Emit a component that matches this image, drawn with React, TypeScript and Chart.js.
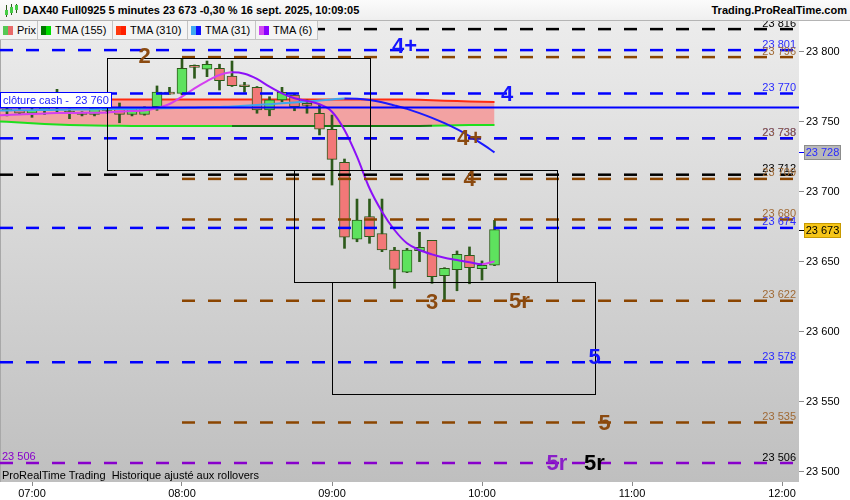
import React, { useEffect, useRef } from 'react';
import { Chart, registerables } from 'chart.js';

Chart.register(...registerables);

const FONT = '"Liberation Sans", Arial, sans-serif';

// ---------- data ----------
const candleTimes = ['06:45','06:50','06:55','07:00','07:05','07:10','07:15','07:20','07:25','07:30','07:35','07:40','07:45','07:50','07:55','08:00','08:05','08:10','08:15','08:20','08:25','08:30','08:35','08:40','08:45','08:50','08:55','09:00','09:05','09:10','09:15','09:20','09:25','09:30','09:35','09:40','09:45','09:50','09:55','10:00','10:05'];
const opens = [23757, 23757.5, 23758, 23756, 23758, 23760, 23756.5, 23755.2, 23755.1, 23759, 23759.4, 23755, 23755, 23760.6, 23770, 23770.1, 23788.9, 23787.3, 23788, 23782.5, 23775, 23774.4, 23758.2, 23765.4, 23768.9, 23762, 23755.9, 23744.4, 23720.9, 23665.9, 23682, 23670, 23658.2, 23642.3, 23657.7, 23665.1, 23639.9, 23644.1, 23654.4, 23644.9, 23647.3];
const highs = [23759, 23760, 23761, 23760, 23762, 23773, 23759, 23757, 23761, 23761, 23763.2, 23760, 23760.5, 23775.4, 23774.4, 23795, 23790.4, 23793.2, 23790.9, 23793.2, 23778, 23775, 23767.7, 23774.4, 23769.5, 23765.4, 23761.8, 23754.6, 23723.2, 23694.6, 23694.6, 23694.6, 23660.1, 23659.4, 23670.9, 23665.1, 23645.6, 23657.5, 23660.4, 23650.4, 23679.4];
const lows = [23755, 23754, 23755, 23753, 23755, 23757, 23752, 23754, 23754, 23756, 23749.1, 23754, 23754.5, 23758, 23769.4, 23769, 23780.9, 23782, 23772.5, 23775, 23770.9, 23755.9, 23754.1, 23764, 23757.7, 23755.9, 23740.4, 23704.6, 23659.4, 23664.1, 23663, 23657, 23630.9, 23642, 23649.9, 23634.4, 23621.8, 23629.1, 23634.1, 23636.8, 23647];
const closes = [23757.5, 23758, 23756, 23758, 23760, 23762, 23756, 23755, 23759.4, 23758, 23755.1, 23759.4, 23759.4, 23771, 23769.6, 23788, 23788.7, 23790.9, 23779.1, 23775.6, 23774.8, 23758.2, 23765.4, 23770.9, 23760.6, 23761.5, 23744.6, 23723, 23667.3, 23679.6, 23667.7, 23658.2, 23644.4, 23658.2, 23660.1, 23639.2, 23645.1, 23655.1, 23645.6, 23647.3, 23672.8];

const tma155 = [23750.3, 23749.8, 23749.2, 23748.7, 23748.2, 23747.8, 23747.5, 23747.3, 23747.1, 23747.0, 23746.9, 23746.8, 23746.8, 23746.8, 23746.8, 23746.8, 23746.8, 23746.8, 23746.8, 23746.8, 23746.8, 23746.8, 23746.8, 23746.8, 23746.8, 23746.8, 23746.8, 23746.8, 23746.8, 23746.8, 23746.8, 23746.8, 23746.8, 23746.8, 23746.8, 23747.0, 23747.2, 23747.4, 23747.5, 23747.5, 23747.5];
const tma310 = [23765.8, 23765.8, 23765.8, 23765.8, 23765.8, 23765.8, 23765.8, 23765.8, 23765.8, 23765.8, 23765.8, 23765.8, 23765.8, 23765.8, 23765.8, 23765.8, 23765.8, 23765.8, 23765.8, 23765.8, 23765.8, 23765.8, 23765.8, 23765.8, 23765.8, 23765.8, 23765.8, 23765.8, 23765.8, 23765.8, 23765.8, 23765.8, 23765.8, 23765.7, 23765.5, 23765.2, 23764.9, 23764.6, 23764.3, 23764.1, 23764.0];
const tma31 = [23757.8, 23757.9, 23758.0, 23758.1, 23758.2, 23758.4, 23758.5, 23758.6, 23758.7, 23758.8, 23758.9, 23759.0, 23759.1, 23759.3, 23759.5, 23759.7, 23759.9, 23760.1, 23760.4, 23760.7, 23761.2, 23761.8, 23762.4, 23763.0, 23763.6, 23764.3, 23765.0, 23765.8, 23766.5, 23766.3, 23765.4, 23763.8, 23761.5, 23759.0, 23756.0, 23752.6, 23748.8, 23744.5, 23739.5, 23734.0, 23728.0];
const tma6 = [23754.2, 23754.6, 23755.0, 23755.4, 23755.7, 23756.0, 23756.1, 23756.2, 23756.3, 23756.5, 23757.2, 23757.5, 23757.9, 23759.6, 23762.5, 23767.7, 23773.7, 23778.9, 23783.2, 23785.1, 23784.1, 23780.4, 23774.9, 23770.1, 23766.6, 23764.6, 23762.3, 23757.0, 23743.9, 23724.9, 23702.3, 23685.6, 23672.5, 23663.0, 23658.2, 23655.1, 23652.7, 23651.1, 23649.4, 23648.0, 23650.1];
const tma155DownFrom = '08:20';
const tma155DownTo = '09:40';

const cashClose = 23760;

const levelPrices = [23816, 23801, 23796, 23770, 23738, 23738, 23712, 23709, 23680, 23674, 23622, 23578, 23535, 23506];
const levelKinds = ['black', 'blue', 'brown', 'blue', 'blue', 'brown', 'black', 'brown', 'brown', 'blue', 'brown', 'blue', 'brown', 'purple'];
const levelFrom: (string | null)[] = [null, null, '08:00', null, null, '08:00', null, '08:00', '08:00', null, '08:00', null, '08:00', null];

const noteTexts = ['2', '4+', '4', '4+', '4', '3', '5r', '5', '5', '5r', '5r'];
const noteTimes = ['07:45', '09:29', '10:10', '09:55', '09:55', '09:40', '10:15', '10:45', '10:49', '10:30', '10:45'];
const notePrices = [23797, 23804, 23770, 23738, 23709, 23621, 23622, 23582, 23535, 23506, 23506];
const noteKinds = ['brown', 'blue', 'blue', 'brown', 'brown', 'brown', 'brown', 'blue', 'brown', 'purple', 'black'];

const boxStarts = ['07:30', '08:45', '09:00'];
const boxEnds = ['09:15', '10:30', '10:45'];
const boxHighs = [23795.4, 23715.4, 23635.4];
const boxLows = [23715.4, 23635.4, 23555.4];

const xTickHours = ['07:00', '08:00', '09:00', '10:00', '11:00', '12:00'];
const X_MIN = -12.8; // minutes after 07:00
const X_MAX = 306.8;
const Y_MIN = 23492.5;
const Y_MAX = 23822.5;

// ---------- helpers ----------
const toMin = (s: string) => {
  const [h, m] = s.split(':').map(Number);
  return (h - 7) * 60 + m;
};
const fmt = (v: number) => {
  const s = Math.round(v).toString();
  return s.slice(0, s.length - 3) + ' ' + s.slice(-3);
};

const lineColor: Record<string, string> = { blue: '#0000ff', brown: '#8b4500', black: '#000000', purple: '#8800cc' };
const labelColor: Record<string, string> = { blue: '#2a2aff', brown: '#a06a35', black: '#000000', purple: '#000000' };
const noteColor: Record<string, string> = { blue: '#1414ff', brown: '#8b4a10', black: '#000000', purple: '#8a1ec8' };

export default function App() {
  const ref = useRef<HTMLCanvasElement>(null);

  useEffect(() => {
    document.body.style.margin = '0';
    const xs = candleTimes.map(toMin);
    const series = (arr: number[]) => xs.map((x, i) => ({ x, y: arr[i] }));
    const dn0 = toMin(tma155DownFrom);
    const dn1 = toMin(tma155DownTo);

    const levelSets = levelPrices.map((p, i) => ({
      type: 'line' as const,
      data: [
        { x: levelFrom[i] ? toMin(levelFrom[i] as string) : X_MIN, y: p },
        { x: X_MAX, y: p },
      ],
      borderColor: lineColor[levelKinds[i]],
      borderWidth: 2.5,
      borderDash: [13, 13],
      pointRadius: 0,
      order: 1,
    }));

    const overlay = {
      id: 'overlay',
      beforeDraw(chart: any) {
        const { ctx, chartArea: a, width, height } = chart;
        ctx.save();
        ctx.fillStyle = '#ffffff';
        ctx.fillRect(0, 0, width, height);
        const g = ctx.createLinearGradient(0, a.top, 0, a.bottom);
        g.addColorStop(0, '#ececec');
        g.addColorStop(1, '#bfbfbf');
        ctx.fillStyle = g;
        ctx.fillRect(a.left, a.top, a.right - a.left, a.bottom - a.top);
        ctx.strokeStyle = '#a8a8a8';
        ctx.lineWidth = 1;
        ctx.beginPath();
        ctx.moveTo(a.left + 0.5, a.top);
        ctx.lineTo(a.left + 0.5, a.bottom);
        ctx.stroke();
        ctx.restore();
      },
      afterDatasetsDraw(chart: any) {
        const { ctx, chartArea: a } = chart;
        const sx = chart.scales.x;
        const sy = chart.scales.y;
        ctx.save();
        // boxes
        ctx.strokeStyle = '#000';
        ctx.lineWidth = 1;
        boxStarts.forEach((b, i) => {
          const x0 = Math.round(sx.getPixelForValue(toMin(b))) + 0.5;
          const x1 = Math.round(sx.getPixelForValue(toMin(boxEnds[i]))) + 0.5;
          const y0 = Math.round(sy.getPixelForValue(boxHighs[i])) + 0.5;
          const y1 = Math.round(sy.getPixelForValue(boxLows[i])) + 0.5;
          ctx.strokeRect(x0, y0, x1 - x0, y1 - y0);
        });
        // level labels
        ctx.font = '11px ' + FONT;
        ctx.textBaseline = 'alphabetic';
        levelPrices.forEach((p, i) => {
          const y = sy.getPixelForValue(p);
          ctx.textAlign = 'right';
          ctx.fillStyle = labelColor[levelKinds[i]];
          ctx.fillText(fmt(p), a.right - 3, y - 2.5);
          if (levelKinds[i] === 'purple') {
            ctx.textAlign = 'left';
            ctx.fillStyle = lineColor.purple;
            ctx.fillText(fmt(p), a.left + 2, y - 3);
          }
        });
        // notes
        ctx.font = 'bold 22px ' + FONT;
        ctx.textAlign = 'center';
        ctx.textBaseline = 'middle';
        noteTexts.forEach((t, i) => {
          const x = sx.getPixelForValue(toMin(noteTimes[i]));
          const y = sy.getPixelForValue(notePrices[i]);
          ctx.fillStyle = noteColor[noteKinds[i]];
          ctx.fillText(t, x, y + 1);
        });
        // cash close label
        const yc = Math.round(sy.getPixelForValue(cashClose));
        ctx.fillStyle = '#ffffff';
        ctx.fillRect(a.left, yc - 16, 112, 15);
        ctx.strokeStyle = '#0000ff';
        ctx.strokeRect(a.left + 0.5, yc - 15.5, 111, 15);
        ctx.font = '11px ' + FONT;
        ctx.textAlign = 'left';
        ctx.textBaseline = 'middle';
        ctx.fillStyle = '#1e1eff';
        ctx.fillText('clôture cash -  ' + fmt(cashClose), a.left + 3, yc - 7.5);
        ctx.restore();
      },
      afterDraw(chart: any) {
        const { ctx, chartArea: a } = chart;
        const sy = chart.scales.y;
        ctx.save();
        ctx.font = '11px ' + FONT;
        ctx.textAlign = 'center';
        ctx.textBaseline = 'middle';
        const tags = [
          { v: tma31[tma31.length - 1], fill: '#b8b8b8', stroke: '#8c8c8c', text: '#2a2aff', tick: '#0000ff' },
          { v: closes[closes.length - 1], fill: '#f5c518', stroke: '#c89a00', text: '#000000', tick: '#000000' },
        ];
        tags.forEach((t) => {
          const y = Math.round(sy.getPixelForValue(t.v));
          ctx.strokeStyle = t.tick;
          ctx.lineWidth = 1;
          ctx.beginPath();
          ctx.moveTo(a.right, y + 0.5);
          ctx.lineTo(a.right + 5, y + 0.5);
          ctx.stroke();
          ctx.fillStyle = t.fill;
          ctx.fillRect(a.right + 5, y - 7, 37, 15);
          ctx.strokeStyle = t.stroke;
          ctx.strokeRect(a.right + 5.5, y - 6.5, 36, 14);
          ctx.fillStyle = t.text;
          ctx.fillText(fmt(t.v), a.right + 23.5, y + 1);
        });
        ctx.restore();
      },
    };

    const chart = new Chart(ref.current as HTMLCanvasElement, {
      type: 'line',
      data: {
        datasets: [
          {
            type: 'line',
            data: [{ x: X_MIN, y: cashClose }, { x: X_MAX, y: cashClose }],
            borderColor: '#0000ff',
            borderWidth: 2,
            pointRadius: 0,
            order: 0,
          },
          ...levelSets,
          {
            type: 'line',
            data: series(tma6),
            borderWidth: 2,
            pointRadius: 0,
            cubicInterpolationMode: 'monotone',
            segment: { borderColor: (c: any) => (c.p1.parsed.y >= c.p0.parsed.y ? '#d43ef0' : '#8c10f8') },
            order: 2,
          },
          {
            type: 'line',
            data: series(tma31),
            borderWidth: 2,
            pointRadius: 0,
            cubicInterpolationMode: 'monotone',
            segment: { borderColor: (c: any) => (c.p1.parsed.y >= c.p0.parsed.y ? '#3ca6ee' : '#1a1aff') },
            order: 2,
          },
          {
            type: 'bar',
            data: xs.map((x, i) => ({ x, y: [Math.min(opens[i], closes[i]), Math.max(opens[i], closes[i])] })),
            backgroundColor: closes.map((c, i) => (c >= opens[i] ? '#5ee25e' : '#f27878')),
            borderColor: '#2d5a1b',
            borderWidth: 1,
            borderSkipped: false,
            barThickness: 10,
            minBarLength: 2,
            grouped: false,
            order: 3,
          },
          {
            type: 'bar',
            data: xs.map((x, i) => ({ x, y: [lows[i], highs[i]] })),
            backgroundColor: '#2d5a1b',
            borderWidth: 0,
            barThickness: 2,
            grouped: false,
            order: 4,
          },
          {
            type: 'line',
            data: series(tma310),
            borderColor: '#ff2a10',
            borderWidth: 2,
            pointRadius: 0,
            order: 5,
          },
          {
            type: 'line',
            data: series(tma155),
            borderWidth: 2,
            pointRadius: 0,
            fill: '-1',
            backgroundColor: 'rgba(255,110,110,0.55)',
            segment: { borderColor: (c: any) => (c.p0.parsed.x >= dn0 && c.p0.parsed.x < dn1 ? '#127a12' : '#1ee01e') },
            order: 6,
          },
        ] as any,
      },
      options: {
        responsive: false,
        animation: false,
        events: [],
        layout: { padding: { top: 20, left: 0, right: 0, bottom: 0 } },
        plugins: { legend: { display: false }, tooltip: { enabled: false } },
        scales: {
          x: {
            type: 'linear',
            min: X_MIN,
            max: X_MAX,
            offset: false,
            afterFit: (s: any) => { s.height = 18; },
            afterBuildTicks: (s: any) => { s.ticks = xTickHours.map((h) => ({ value: toMin(h) })); },
            grid: { drawOnChartArea: false, tickLength: 4, color: '#8a8a8a', offset: false },
            border: { display: false },
            ticks: {
              autoSkip: false,
              maxRotation: 0,
              padding: 1,
              color: '#000',
              font: { family: FONT, size: 11 },
              callback: (v: any) => String(7 + Math.round(Number(v) / 60)).padStart(2, '0') + ':00',
            },
          },
          y: {
            type: 'linear',
            position: 'right',
            min: Y_MIN,
            max: Y_MAX,
            beginAtZero: false,
            afterFit: (s: any) => { s.width = 51; },
            grid: { drawOnChartArea: false, tickLength: 5, color: '#8a8a8a' },
            border: { display: false },
            ticks: {
              stepSize: 50,
              includeBounds: false,
              padding: 2,
              color: '#000',
              font: { family: FONT, size: 11 },
              callback: (v: any) => fmt(Number(v)),
            },
          },
        },
      } as any,
      plugins: [overlay],
    });
    return () => chart.destroy();
  }, []);

  const legendItems = [
    { label: 'Prix', c1: '#55c855', c2: '#e86a6a', w: 38 },
    { label: 'TMA (155)', c1: '#007a00', c2: '#00dd00', w: 75 },
    { label: 'TMA (310)', c1: '#ff3a10', c2: '#ff2000', w: 75 },
    { label: 'TMA (31)', c1: '#40a8f0', c2: '#1010ff', w: 68 },
    { label: 'TMA (6)', c1: '#d048f0', c2: '#8a00ff', w: 62 },
  ];

  return (
    <div style={{ position: 'relative', width: 850, height: 500, overflow: 'hidden', fontFamily: FONT }}>
      <canvas ref={ref} width={850} height={500} style={{ position: 'absolute', left: 0, top: 0, width: 850, height: 500 }} />
      <div style={{ position: 'absolute', left: 0, top: 0, width: 850, height: 21, boxSizing: 'border-box', background: 'linear-gradient(#fbfbfb, #efefef)', borderBottom: '1px solid #b4b4b4' }}>
        <div style={{ position: 'absolute', left: 5, top: 4, width: 13, height: 13 }}>
          <div style={{ position: 'absolute', left: 1, top: 1, width: 1, height: 12, background: '#2d5a1b' }} />
          <div style={{ position: 'absolute', left: 0, top: 6, width: 3, height: 5, background: '#44cc44' }} />
          <div style={{ position: 'absolute', left: 6, top: 0, width: 1, height: 11, background: '#2d5a1b' }} />
          <div style={{ position: 'absolute', left: 5, top: 3, width: 3, height: 6, background: '#44cc44' }} />
          <div style={{ position: 'absolute', left: 11, top: 0, width: 1, height: 9, background: '#2d5a1b' }} />
          <div style={{ position: 'absolute', left: 10, top: 1, width: 3, height: 5, background: '#44cc44' }} />
        </div>
        <div style={{ position: 'absolute', left: 23, top: 4, fontSize: 11, fontWeight: 'bold', color: '#000', whiteSpace: 'pre', lineHeight: '13px' }}>
          DAX40 Full0925 5 minutes 23 673 -0,30 % 16 sept. 2025, 10:09:05
        </div>
        <div style={{ position: 'absolute', right: 3, top: 4, fontSize: 11, fontWeight: 'bold', color: '#000', whiteSpace: 'pre', lineHeight: '13px' }}>
          Trading.ProRealTime.com
        </div>
      </div>
      <div style={{ position: 'absolute', left: 0, top: 21, height: 19, display: 'flex', boxSizing: 'border-box', background: '#f4f4f4', borderBottom: '1px solid #c4c4c4' }}>
        {legendItems.map((it) => (
          <div key={it.label} style={{ width: it.w, boxSizing: 'border-box', borderRight: '1px solid #c4c4c4', display: 'flex', alignItems: 'center', paddingLeft: 3 }}>
            <div style={{ width: 5, height: 9, background: it.c1 }} />
            <div style={{ width: 5, height: 9, background: it.c2 }} />
            <span style={{ marginLeft: 4, fontSize: 11, color: '#000', whiteSpace: 'pre' }}>{it.label}</span>
          </div>
        ))}
      </div>
      <div style={{ position: 'absolute', left: 2, top: 469, fontSize: 11, color: '#000', whiteSpace: 'pre', lineHeight: '13px' }}>
        {'ProRealTime Trading  Historique ajusté aux rollovers'}
      </div>
    </div>
  );
}
